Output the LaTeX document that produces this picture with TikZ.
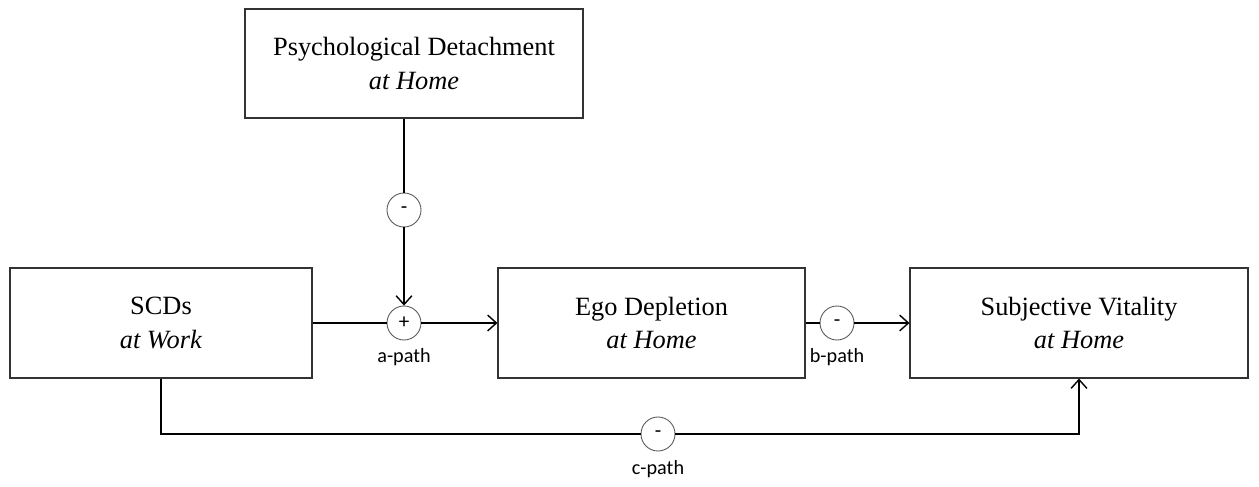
\documentclass[tikz,border=0pt]{standalone}
\usepackage{fontspec}
\setmainfont{Liberation Serif}
\newfontfamily\labelfont{Carlito}
\usetikzlibrary{arrows.meta}

\tikzset{
  varbox/.style={draw=black!80, line width=0.6pt, minimum height=2.2cm, align=center,
    font=\fontsize{15}{19}\selectfont},
  signnode/.style={circle, draw=black!65, line width=0.5pt, minimum size=0.68cm, inner sep=0pt,
    font=\labelfont\fontsize{12}{12}\selectfont, fill=white},
  pathlabel/.style={font=\labelfont\fontsize{11.5}{12}\selectfont},
  link/.style={line width=0.8pt},
  arrowlink/.style={link, -{Straight Barb[length=5pt,width=9pt]}}
}

\begin{document}
\begin{tikzpicture}
  \useasboundingbox (0,0) rectangle (25.18,9.72);
  % variables
  \node[varbox, minimum width=6.76cm, minimum height=2.18cm] (pd) at (8.28,8.45) {Psychological Detachment\\ \textit{at Home}};
  \node[varbox, minimum width=6.04cm] (scd) at (3.22,3.26) {SCDs\\ \textit{at Work}};
  \node[varbox, minimum width=6.14cm] (ego) at (13.03,3.26) {Ego Depletion\\ \textit{at Home}};
  \node[varbox, minimum width=6.76cm] (sv) at (21.58,3.26) {Subjective Vitality\\ \textit{at Home}};
  % signs
  \node[signnode] (mod) at (8.08,5.52) {-};
  \node[signnode] (apath) at (8.08,3.26) {+};
  \node[signnode] (bpath) at (16.74,3.26) {-};
  \node[signnode] (cpath) at (13.16,1.04) {-};
  % labels
  \node[pathlabel] (alab) at (8.08,2.58) {a-path};
  \node[pathlabel] (blab) at (16.74,2.58) {b-path};
  \node[pathlabel] (clab) at (13.16,0.34) {c-path};
  % connectors
  \draw[link] (pd.south -| mod) -- (mod.north);
  \draw[arrowlink] (mod.south) -- (apath.north);
  \draw[link] (scd.east) -- (apath.west);
  \draw[arrowlink] (apath.east) -- (ego.west);
  \draw[link] (ego.east) -- (bpath.west);
  \draw[arrowlink] (bpath.east) -- (sv.west);
  \draw[link] (scd.south) |- (cpath.west);
  \draw[arrowlink] (cpath.east) -| (sv.south);
\end{tikzpicture}
\end{document}
